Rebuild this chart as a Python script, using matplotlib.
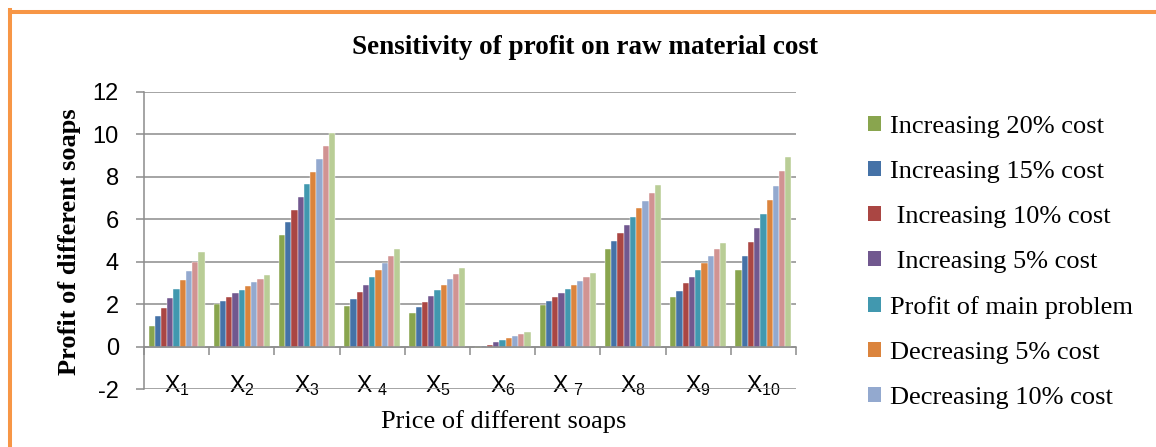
import numpy as np
import matplotlib
matplotlib.use('Agg')
import matplotlib.pyplot as plt
from matplotlib.patches import Patch
from matplotlib.lines import Line2D

plt.rcParams['axes.unicode_minus'] = False

categories = [r'X$\mathregular{_1}$', r'X$\mathregular{_2}$', r'X$\mathregular{_3}$', r'X $\mathregular{_4}$',
              r'X$\mathregular{_5}$', r'X$\mathregular{_6}$', r'X $\mathregular{_7}$', r'X$\mathregular{_8}$',
              r'X$\mathregular{_9}$', r'X$\mathregular{_{10}}$']

series_names = ['Increasing 20% cost', 'Increasing 15% cost', ' Increasing 10% cost', ' Increasing 5% cost',
                'Profit of main problem', 'Decreasing 5% cost', 'Decreasing 10% cost',
                'Decreasing 15% cost', 'Decreasing 20% cost']

inc20 = [0.97, 2.00, 5.25, 1.89, 1.59, -0.08, 1.95, 4.62, 2.33, 3.60]
inc15 = [1.42, 2.15, 5.85, 2.23, 1.86, 0.02, 2.14, 5.00, 2.64, 4.26]
inc10 = [1.84, 2.33, 6.43, 2.58, 2.12, 0.09, 2.33, 5.36, 2.99, 4.92]
inc5 = [2.28, 2.52, 7.04, 2.91, 2.39, 0.20, 2.52, 5.74, 3.29, 5.60]
main = [2.72, 2.67, 7.64, 3.27, 2.66, 0.30, 2.70, 6.12, 3.62, 6.26]
dec5 = [3.14, 2.86, 8.25, 3.60, 2.92, 0.41, 2.91, 6.51, 3.93, 6.93]
dec10 = [3.58, 3.03, 8.84, 3.95, 3.18, 0.50, 3.10, 6.87, 4.25, 7.59]
dec15 = [4.00, 3.19, 9.45, 4.29, 3.44, 0.60, 3.29, 7.25, 4.58, 8.27]
dec20 = [4.45, 3.38, 10.06, 4.62, 3.71, 0.71, 3.47, 7.63, 4.89, 8.93]

series = [inc20, inc15, inc10, inc5, main, dec5, dec10, dec15, dec20]
colors = ['#89A54E', '#4572A7', '#AA4643', '#71588F', '#4198AF', '#DB843D', '#93A9CF', '#D19392', '#B9CD96']

serif = 'Liberation Serif'
sans = 'Liberation Sans'

fig = plt.figure(figsize=(11.56, 4.47), dpi=100)
ax = fig.add_axes([144 / 1156, 1 - 389 / 447, (796 - 144) / 1156, (389 - 92) / 447])

x = np.arange(len(categories))
w = 0.0955
for j, (vals, c) in enumerate(zip(series, colors)):
    ax.bar(x + (j - 4) * w, vals, width=w, color=c, edgecolor='white', linewidth=0.3, zorder=3)

ax.set_xlim(-0.5, 9.5)
ax.set_ylim(-2, 12)
ax.set_yticks(range(-2, 13, 2))
ax.yaxis.grid(True, color='#8c8c8c', linewidth=1.1, zorder=0)
ax.set_axisbelow(True)

for s in ['top', 'right']:
    ax.spines[s].set_visible(False)
ax.spines['bottom'].set_position(('data', 0))
ax.spines['bottom'].set_color('#8c8c8c')
ax.spines['bottom'].set_linewidth(1.1)
ax.spines['bottom'].set_zorder(4)
ax.spines['left'].set_color('#8c8c8c')
ax.spines['left'].set_linewidth(1.1)

ax.set_xticks(np.arange(-0.5, 10, 1))
ax.set_xticklabels([])
ax.set_xticks(x, minor=True)
ax.set_xticklabels(categories, minor=True, fontsize=16.5, fontfamily=sans)
ax.tick_params(axis='x', which='major', length=6, width=1.1, color='#8c8c8c', direction='out')
ax.tick_params(axis='x', which='minor', length=0, pad=19)
ax.tick_params(axis='y', length=6, width=1.1, color='#8c8c8c', labelsize=17, pad=12)
for lbl in ax.get_yticklabels():
    lbl.set_fontfamily(sans)

fig.text(0.506, 0.893, 'Sensitivity of profit on raw material cost', ha='center', va='center',
         fontsize=19.5, fontweight='bold', fontfamily=serif)
fig.text(70 / 1156, 0.4597, 'Profit of different soaps', ha='center', va='center', rotation=90,
         fontsize=19, fontweight='bold', fontfamily=serif)
fig.text(0.436, 0.058, 'Price of different soaps', ha='center', va='center',
         fontsize=19, fontfamily=serif)

handles = [Patch(facecolor=c) for c in colors[:7]]
fig.legend(handles, series_names[:7], loc='upper left', bbox_to_anchor=(868 / 1156, 1 - 116 / 447),
           frameon=False, prop={'family': serif, 'size': 19}, handlelength=0.5, handleheight=0.5,
           handletextpad=0.35, labelspacing=0.87, borderpad=0, borderaxespad=0)

# orange frame on top and left
fig.add_artist(Line2D([9.5 / 1156, 1], [1 - 11.5 / 447, 1 - 11.5 / 447], transform=fig.transFigure,
                      color='#F79646', linewidth=2.9))
fig.add_artist(Line2D([9.5 / 1156, 9.5 / 1156], [0, 1 - 10 / 447], transform=fig.transFigure,
                      color='#F79646', linewidth=2.9))

fig.savefig('out.png', dpi=100)
